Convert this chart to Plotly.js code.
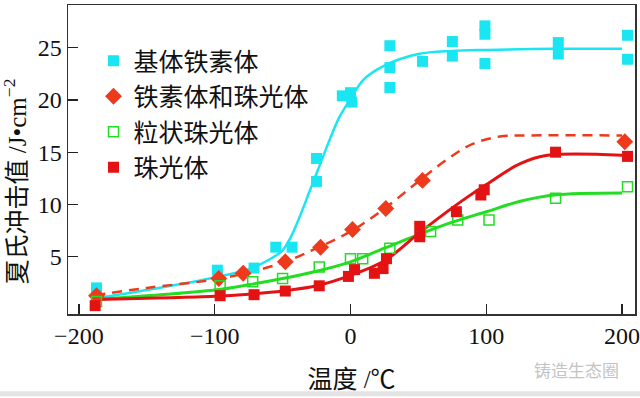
<!DOCTYPE html>
<html>
<head>
<meta charset="utf-8">
<script src="https://cdn.plot.ly/plotly-3.0.1.min.js"></script>
<style>html,body{margin:0;padding:0;background:#fff;}#chart{width:640px;height:398px;}</style>
</head>
<body>
<div id="chart"></div>
<script>
// ---- data ----
// 基体铁素体 (matrix ferrite) measured points
const ferriteT = [-187, -98, -71, -55, -43, -25, -25, -6, 0, 1, 29, 29, 29, 53, 75, 75, 99, 99, 99, 153, 153, 204, 204];
const ferriteV = [2.0, 3.7, 3.9, 5.9, 5.9, 14.4, 12.2, 20.4, 20.7, 19.8, 25.2, 23.1, 21.2, 23.7, 25.6, 24.2, 27.1, 26.3, 23.5, 25.5, 24.4, 26.2, 23.9];
// fitted curve
const ferriteFitT = [-188, -150, -100, -75, -60, -50, -45, -40, -35, -30, -24, -15, -8, 0, 10, 25, 50, 75, 100, 150, 200];
const ferriteFitV = [1.0, 1.8, 3.0, 3.8, 4.7, 5.6, 6.6, 8.0, 9.6, 11.3, 13.3, 16.3, 18.4, 20.1, 22.0, 23.3, 24.4, 24.7, 24.8, 24.9, 24.9];

// 铁素体和珠光体 (ferrite + pearlite)
const fpT = [-187, -97, -79, -48, -22, 1.5, 26, 53, 202];
const fpV = [1.25, 2.9, 3.4, 4.5, 5.9, 7.6, 9.6, 12.3, 16.0];
const fpFitT = [-188, -150, -100, -75, -50, -25, 0, 25, 50, 70, 90, 110, 130, 200];
const fpFitV = [1.3, 2.0, 2.8, 3.5, 4.4, 5.8, 7.4, 9.6, 12.2, 14.2, 15.8, 16.5, 16.6, 16.6];

// 粒状珠光体 (granular pearlite)
const gpT = [-187, -96, -72, -50, -23, 0, 9, 29, 59, 79, 102, 151, 204];
const gpV = [0.7, 2.2, 2.6, 2.9, 4.0, 4.8, 4.8, 5.8, 7.4, 8.5, 8.5, 10.6, 11.7];
const gpFitT = [-188, -100, -75, -50, -25, 0, 25, 50, 75, 100, 125, 150, 200];
const gpFitV = [0.9, 1.8, 2.3, 2.9, 3.6, 4.5, 5.8, 7.1, 8.3, 9.3, 10.3, 10.9, 11.1];

// 珠光体 (pearlite)
const pT = [-188, -96, -71, -48, -23, -1.5, 3, 17.6, 24, 26.5, 51, 51, 78, 96, 98.5, 151, 204];
const pV = [0.3, 1.25, 1.35, 1.7, 2.2, 3.1, 3.75, 3.4, 3.85, 4.8, 6.9, 7.9, 9.3, 10.9, 11.4, 15.0, 14.6];
const pFitT = [-188, -100, -75, -50, -25, 0, 25, 50, 68, 85, 100, 125, 145, 200];
const pFitV = [0.9, 1.2, 1.4, 1.7, 2.2, 3.2, 4.6, 7.2, 9.0, 10.6, 11.9, 13.9, 14.7, 14.7];

const seriesNames = ['基体铁素体', '铁素体和珠光体', '粒状珠光体', '珠光体'];
const xTicks = [-200, -100, 0, 100, 200];
const yTicks = [5, 10, 15, 20, 25];

// ---- styles ----
const cCyan = '#19e6f2', cOrange = '#ee3a1c', cGreen = '#22dd22', cRed = '#e41212';
const serif = 'Liberation Serif, Noto Sans CJK SC, serif';

const traces = [
  {x: ferriteFitT, y: ferriteFitV, mode: 'lines', line: {color: cCyan, width: 2.5, shape: 'spline'}, showlegend: false, hoverinfo: 'skip'},
  {x: fpFitT, y: fpFitV, mode: 'lines', line: {color: cOrange, width: 2.5, dash: '10px,7px', shape: 'spline'}, showlegend: false, hoverinfo: 'skip'},
  {x: gpFitT, y: gpFitV, mode: 'lines', line: {color: cGreen, width: 3, shape: 'spline'}, showlegend: false, hoverinfo: 'skip'},
  {x: pFitT, y: pFitV, mode: 'lines', line: {color: cRed, width: 3, shape: 'spline'}, showlegend: false, hoverinfo: 'skip'},
  {x: ferriteT, y: ferriteV, name: seriesNames[0], mode: 'markers', marker: {symbol: 'square', size: 11, color: cCyan}},
  {x: fpT, y: fpV, name: seriesNames[1], mode: 'markers', marker: {symbol: 'diamond', size: 13, color: cOrange}},
  {x: gpT, y: gpV, name: seriesNames[2], mode: 'markers', marker: {symbol: 'square-open', size: 10, color: cGreen, line: {width: 1.5}}},
  {x: pT, y: pV, name: seriesNames[3], mode: 'markers', marker: {symbol: 'square', size: 11, color: cRed}}
];

const layout = {
  width: 640, height: 398,
  margin: {l: 68, r: 5, t: 5, b: 84},
  paper_bgcolor: '#ffffff', plot_bgcolor: '#ffffff',
  showlegend: true,
  legend: {x: 0.045, y: 0.893, xanchor: 'left', yanchor: 'top', bgcolor: 'rgba(0,0,0,0)',
           font: {family: 'Noto Sans CJK SC, sans-serif', size: 25, color: '#111'}, itemwidth: 30, tracegroupgap: 0},
  xaxis: {
    range: [-208, 209.5], tickvals: xTicks, ticks: 'inside', ticklen: 10, tickwidth: 1.3, tickcolor: '#222',
    showline: true, linecolor: '#333', linewidth: 1.5, mirror: true, showgrid: false, zeroline: false,
    ticklabeloverflow: 'allow',
    tickfont: {family: serif, size: 24, color: '#111'},
    title: {text: '温度 /℃', font: {family: serif, size: 25, color: '#111'}, standoff: 22}
  },
  yaxis: {
    range: [-0.5, 29.1], tickvals: yTicks, ticks: 'inside', ticklen: 10, tickwidth: 1.3, tickcolor: '#222',
    showline: true, linecolor: '#333', linewidth: 1.5, mirror: true, showgrid: false, zeroline: false,
    tickfont: {family: serif, size: 24, color: '#111'}
  },
  annotations: [
    {text: '夏氏冲击值 /J•cm<sup>−2</sup>', xref: 'paper', yref: 'paper', x: -0.093, y: 0.43,
     xanchor: 'center', yanchor: 'middle', textangle: -90, showarrow: false,
     font: {family: serif, size: 25, color: '#111'}},
    {text: '铸造生态圈', xref: 'paper', yref: 'paper', x: 0.975, y: -0.18, xanchor: 'right', yanchor: 'middle',
     showarrow: false, font: {family: 'Noto Sans CJK SC, sans-serif', size: 17, color: '#c4c4c4'}}
  ],
  shapes: [
    {type: 'line', xref: 'paper', yref: 'paper', x0: -0.13, x1: 1.02, y0: -0.258, y1: -0.258,
     line: {color: '#e4e4e4', width: 5}}
  ]
};

Plotly.newPlot('chart', traces, layout, {displayModeBar: false, staticPlot: true});
</script>
</body>
</html>
